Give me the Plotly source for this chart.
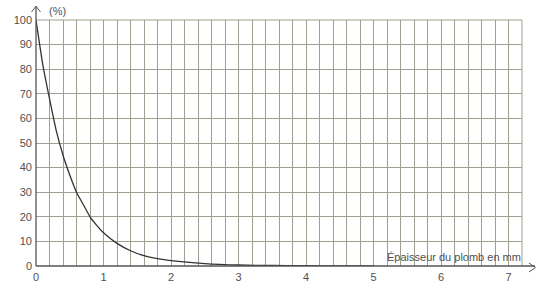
import plotly.graph_objects as go

# Data
thickness_mm = [0, 0.1, 0.2, 0.3, 0.4, 0.5, 0.6, 0.7, 0.8, 0.9, 1.0, 1.2, 1.4, 1.6, 1.8, 2.0, 2.5, 3.0, 3.5, 4.0, 4.5, 5.0]
transmission_pct = [100, 82, 68, 55, 45, 37, 30, 25, 20, 16.5, 13.5, 9.2, 6.2, 4.2, 3.0, 2.2, 1.0, 0.4, 0.2, 0.1, 0.03, 0]
x_ticks = [0, 1, 2, 3, 4, 5, 6, 7]
y_ticks = [0, 10, 20, 30, 40, 50, 60, 70, 80, 90, 100]
x_label = "Épaisseur du plomb en mm"
y_label = "(%)"

W, H = 542, 295
L, R, T, B = 36, 20, 20, 26
pw, ph = W - L - R, H - T - B

def px(xp):
    return (xp - L) / pw

def py(yp):
    return (H - B - yp) / ph

grid_col = "rgb(160,160,146)"
axis_col = "#555555"
text_col = "#505050"
font_family = "Liberation Sans, Arial, sans-serif"

fig = go.Figure()
fig.add_trace(go.Scatter(
    x=thickness_mm, y=transmission_pct, mode="lines",
    line=dict(color="#333333", width=1.3, shape="spline", smoothing=0.6),
    showlegend=False, hoverinfo="skip"))

fig.update_layout(
    width=W, height=H,
    margin=dict(l=L, r=R, t=T, b=B),
    paper_bgcolor="white", plot_bgcolor="white",
    font=dict(family=font_family, size=11, color=text_col),
    xaxis=dict(range=[0, 7.2], tickvals=x_ticks, showgrid=True, gridcolor=grid_col, gridwidth=1,
               minor=dict(dtick=0.2, tick0=0, showgrid=True, gridcolor=grid_col, gridwidth=1),
               zeroline=False, showline=False, ticks="", ticklabelstandoff=3,
               tickfont=dict(size=11, color=text_col), fixedrange=True),
    yaxis=dict(range=[0, 100], tickvals=y_ticks, showgrid=True, gridcolor=grid_col, gridwidth=1,
               zeroline=False, showline=False, ticks="", ticklabelstandoff=3,
               tickfont=dict(size=11, color=text_col), fixedrange=True),
)

# top and right border lines
fig.add_shape(type="line", xref="paper", yref="paper", x0=0, x1=1, y0=1, y1=1,
              line=dict(color=grid_col, width=1))
fig.add_shape(type="line", xref="paper", yref="paper", x0=1, x1=1, y0=0, y1=1,
              line=dict(color=grid_col, width=1))

# axes with open arrowheads
fig.add_shape(type="line", xref="paper", yref="paper", x0=0, x1=px(535), y0=0, y1=0,
              line=dict(color=axis_col, width=1.3))
fig.add_shape(type="path", xref="paper", yref="paper",
              path=f"M {px(529)} {py(266)} L {px(535.5)} {py(270.5)} L {px(529)} {py(275)}",
              line=dict(color=axis_col, width=1))
fig.add_shape(type="line", xref="paper", yref="paper", x0=0, x1=0, y0=0, y1=py(6),
              line=dict(color=axis_col, width=1.3))
fig.add_shape(type="path", xref="paper", yref="paper",
              path=f"M {px(31.5)} {py(12)} L {px(36)} {py(6)} L {px(40.5)} {py(12)}",
              line=dict(color=axis_col, width=1))

fig.add_annotation(text=y_label, xref="paper", yref="paper", x=px(47), y=py(11),
                   xanchor="left", yanchor="middle", showarrow=False,
                   font=dict(size=11, color=text_col))
fig.add_annotation(text=x_label, xref="paper", yref="paper", x=px(523), y=py(259.5),
                   xanchor="right", yanchor="middle", showarrow=False,
                   font=dict(size=11, color=text_col), bgcolor="rgba(255,255,255,0)")

fig.write_html("out.html")
